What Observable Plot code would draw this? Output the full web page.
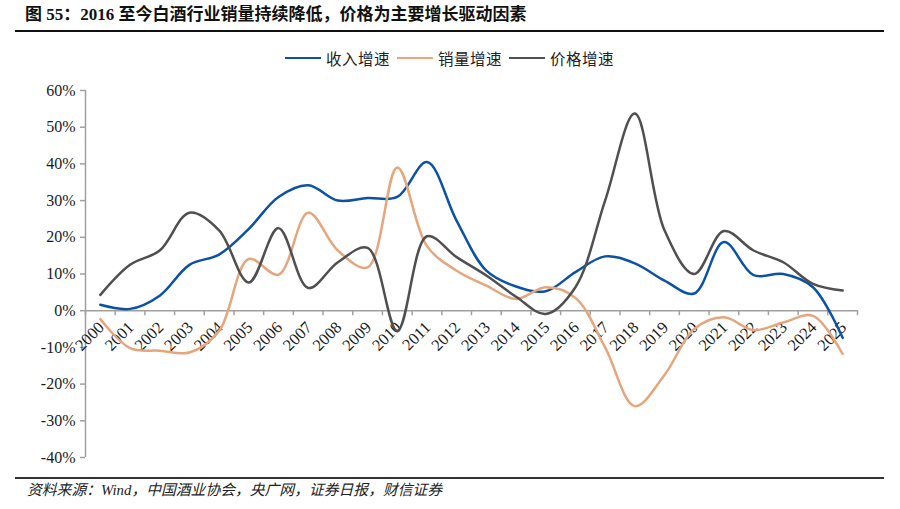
<!DOCTYPE html>
<html>
<head>
<meta charset="utf-8">
<script src="https://cdn.jsdelivr.net/npm/d3@7"></script>
<script src="https://cdn.jsdelivr.net/npm/@observablehq/plot@0.6"></script>
<style>
  html, body { margin: 0; padding: 0; background: #fff; }
  #page { position: relative; width: 900px; height: 509px; overflow: hidden; background: #fff; }
  #title {
    position: absolute; left: 25px; top: 5px;
    font-family: "Liberation Serif", "Noto Sans CJK SC", serif;
    font-weight: bold; font-size: 17px; color: #111; white-space: nowrap; line-height: 20px;
  }
  #title-rule { position: absolute; left: 15px; top: 30px; width: 869px; height: 1.5px; background: #111; }
  #legend {
    position: absolute; left: 285px; top: 48px; height: 20px;
    display: flex; align-items: center; white-space: nowrap;
    font-family: "Noto Sans CJK SC", sans-serif; font-size: 15.5px; color: #222;
  }
  #legend .sw { display: inline-block; width: 36px; height: 2.5px; margin-right: 5px; }
  #legend .lab { margin-right: 7px; letter-spacing: 0.5px; }
  #chart { position: absolute; left: 0; top: 70px; }
  #foot-rule { position: absolute; left: 15px; top: 477px; width: 869px; height: 2px; background: #333; }
  #caption {
    position: absolute; left: 27px; top: 481px;
    font-family: "Liberation Serif", "Noto Sans CJK SC", serif;
    font-style: italic; font-size: 14.8px; color: #222; white-space: nowrap; line-height: 18px;
  }
</style>
</head>
<body>
<div id="page">
  <div id="title">图 55：2016 至今白酒行业销量持续降低，价格为主要增长驱动因素</div>
  <div id="title-rule"></div>
  <div id="legend"></div>
  <div id="chart"></div>
  <div id="foot-rule"></div>
  <div id="caption">资料来源：Wind，中国酒业协会，央广网，证券日报，财信证券</div>
</div>
<script>
// Years on the category axis
const years = [2000, 2001, 2002, 2003, 2004, 2005, 2006, 2007, 2008, 2009, 2010, 2011, 2012,
               2013, 2014, 2015, 2016, 2017, 2018, 2019, 2020, 2021, 2022, 2023, 2024, 2025];

// Year-on-year growth rates, %
const revenueGrowth = [1.6, 0.5, 4.1, 12.5, 15.3, 22.3, 31.0, 34.2, 30.0, 30.7, 31.0, 40.5, 24.5,
                       10.9, 6.6, 5.3, 10.5, 14.8, 12.9, 8.2, 4.7, 18.7, 9.7, 10.0, 6.4, -7.4];
const volumeGrowth  = [-2.3, -10.2, -10.9, -11.4, -5.5, 14.1, 9.8, 26.7, 16.4, 11.8, 39.0, 17.6, 10.9,
                       6.8, 3.2, 6.4, 3.5, -10.0, -26.0, -17.5, -5.0, -1.8, -5.3, -3.2, -1.4, -11.8];
const priceGrowth   = [4.3, 12.5, 16.4, 26.7, 21.9, 7.7, 22.5, 6.2, 13.2, 17.1, -5.5, 20.3, 14.6,
                       9.6, 3.8, -0.9, 6.4, 30.0, 53.7, 21.9, 10.0, 21.7, 16.4, 13.2, 7.3, 5.5];

// Y axis ticks, %
const yTicks = [-40, -30, -20, -10, 0, 10, 20, 30, 40, 50, 60];

// Series names and colours
const seriesNames = ["收入增速", "销量增速", "价格增速"];
const seriesColors = ["#0b52a6", "#e6a67c", "#4f4f4f"];
const seriesValues = [revenueGrowth, volumeGrowth, priceGrowth];

const axisColor = "#a0a0a0";
const textColor = "#1a1a1a";

// Long-format rows for the line marks
const rows = seriesNames.flatMap((name, s) =>
  years.map((year, i) => ({series: name, year, value: seriesValues[s][i]})));

// Category boundaries: tick marks sit between years
const bounds = years.map(y => y - 0.5).concat([years[years.length - 1] + 0.5]);

const chart = Plot.plot({
  width: 900,
  height: 410,
  marginLeft: 85,
  marginRight: 43,
  marginTop: 20,
  marginBottom: 23,
  x: {domain: [bounds[0], bounds[bounds.length - 1]], axis: null},
  y: {domain: [yTicks[0], yTicks[yTicks.length - 1]], axis: null},
  color: {domain: seriesNames, range: seriesColors},
  style: {fontFamily: "Liberation Serif, serif", fontSize: "16px", background: "transparent", overflow: "visible"},
  marks: [
    // vertical axis line with ticks and percent labels
    Plot.ruleX([bounds[0]], {stroke: axisColor, strokeWidth: 1.5}),
    Plot.axisY(yTicks, {
      label: null, tickSize: 5, tickPadding: 5, tickFormat: d => d + "%",
      stroke: axisColor, strokeWidth: 1.5, fill: textColor, fontSize: 16
    }),
    // zero baseline acting as the category axis
    Plot.ruleY([0], {stroke: axisColor, strokeWidth: 1.5}),
    Plot.ruleX(bounds, {x: d => d, y1: 0, y2: 0, insetBottom: -5, stroke: axisColor, strokeWidth: 1.5}),
    Plot.text(years, {
      x: d => d, y: 0, text: d => String(d), rotate: -45,
      textAnchor: "end", lineAnchor: "middle", dx: 1, dy: 14,
      fill: textColor, fontSize: 16.5
    }),
    // growth-rate lines
    Plot.line(rows, {
      x: "year", y: "value", z: "series", stroke: "series",
      curve: "catmull-rom", strokeWidth: 2.5
    })
  ]
});
document.getElementById("chart").appendChild(chart);

// Legend row
const legend = document.getElementById("legend");
seriesNames.forEach((name, i) => {
  const sw = document.createElement("span");
  sw.className = "sw";
  sw.style.background = seriesColors[i];
  const lab = document.createElement("span");
  lab.className = "lab";
  lab.textContent = name;
  legend.appendChild(sw);
  legend.appendChild(lab);
});
</script>
</body>
</html>
